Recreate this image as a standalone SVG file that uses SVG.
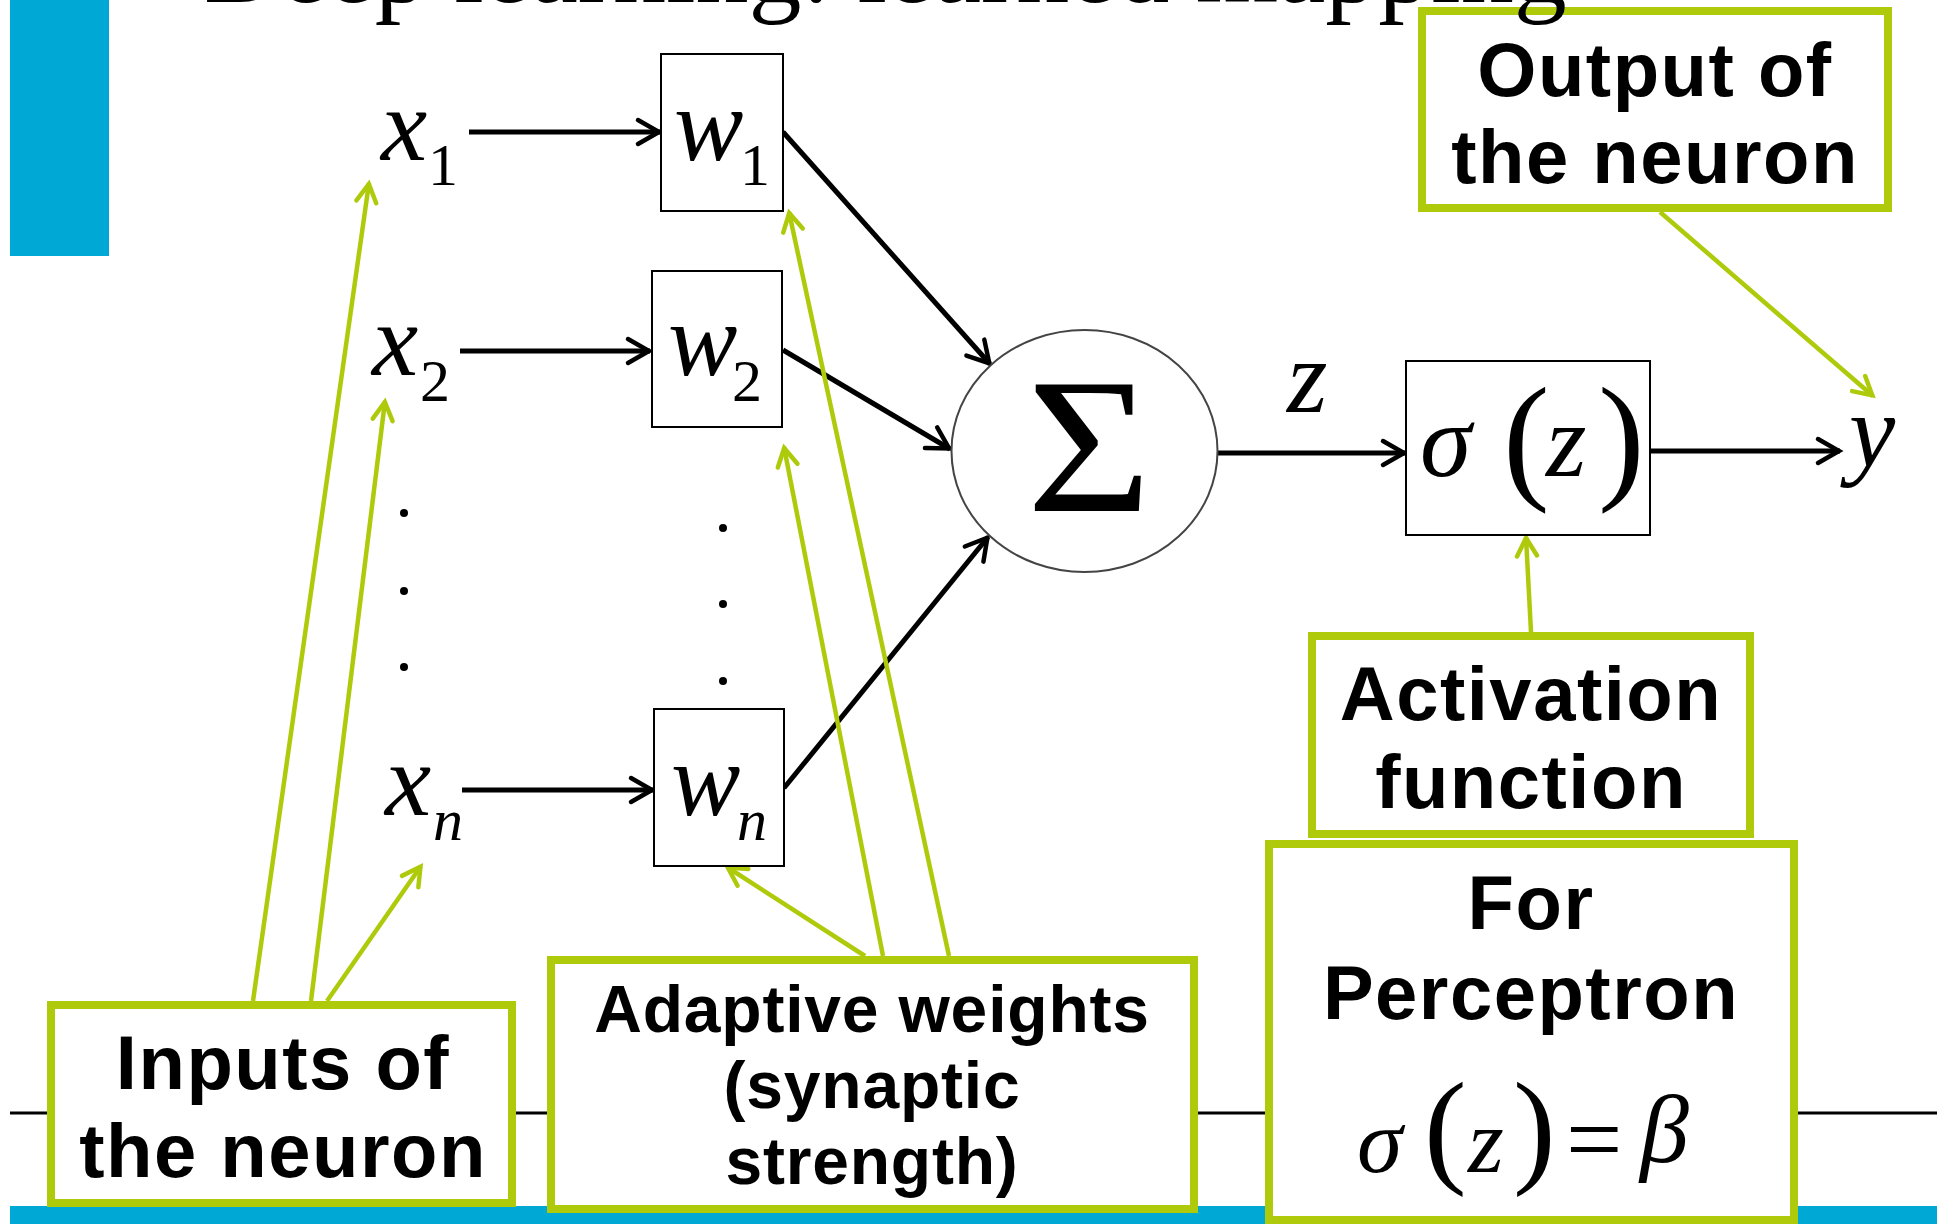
<svg xmlns="http://www.w3.org/2000/svg" width="1937" height="1224" viewBox="0 0 1937 1224">
<style>
.math{font-family:"Liberation Serif","Times New Roman",serif;font-style:italic;fill:#000}
.up{font-family:"Liberation Serif","Times New Roman",serif;font-style:normal;fill:#000}
.lbl{font-family:"Liberation Sans",Arial,sans-serif;font-weight:bold;fill:#000;text-anchor:middle;letter-spacing:1.5px}
.gbox{fill:#fff;stroke:#AFCA0B;stroke-width:8}
.wbox{fill:#fff;stroke:#000;stroke-width:2}
.blk{stroke:#000;stroke-width:5;fill:none;marker-end:url(#ab)}
.grn{stroke:#AFCA0B;stroke-width:4.5;fill:none;marker-end:url(#ag)}
</style>
<defs>
<marker id="ab" markerUnits="userSpaceOnUse" markerWidth="36" markerHeight="36" viewBox="-30 -18 36 36" refX="0" refY="0" orient="auto">
<path d="M-22,-12 L-1,0 L-22,12" fill="none" stroke="#000" stroke-width="4.5" stroke-linecap="round"/>
</marker>
<marker id="ag" markerUnits="userSpaceOnUse" markerWidth="30" markerHeight="30" viewBox="-24 -15 30 30" refX="0" refY="0" orient="auto">
<path d="M-19,-10 L-1,0 L-19,10" fill="none" stroke="#AFCA0B" stroke-width="4.5" stroke-linecap="round"/>
</marker>
</defs>
<rect width="1937" height="1224" fill="#fff"/>
<g id="background">
<rect x="10" y="0" width="99" height="256" fill="#00A8D6"/>
<rect x="10" y="1206" width="1927" height="18" fill="#00A8D6"/>
<line x1="10" y1="1113" x2="1937" y2="1113" stroke="#000" stroke-width="3"/>
</g>
<g id="connectors">
<line class="blk" x1="469" y1="132" x2="660" y2="132"/>
<line class="blk" x1="460" y1="351" x2="650" y2="351"/>
<line class="blk" x1="462" y1="790" x2="653" y2="790"/>
<line class="blk" x1="783" y1="132" x2="990" y2="364"/>
<line class="blk" x1="783" y1="350" x2="950" y2="449"/>
<line class="blk" x1="784" y1="788" x2="988" y2="537"/>
<line class="blk" x1="1218" y1="453" x2="1405" y2="453"/>
<line class="blk" x1="1650" y1="451" x2="1840" y2="451"/>
<line class="grn" x1="253" y1="1001" x2="369" y2="183"/>
<line class="grn" x1="311" y1="1001" x2="385" y2="401"/>
<line class="grn" x1="327" y1="1001" x2="421" y2="866"/>
<line class="grn" x1="865" y1="956" x2="727" y2="867"/>
<line class="grn" x1="883" y1="956" x2="784" y2="447"/>
<line class="grn" x1="949" y1="956" x2="789" y2="212"/>
<line class="grn" x1="1660" y1="212" x2="1873" y2="396"/>
<line class="grn" x1="1531" y1="632" x2="1526" y2="537"/>
</g>
<g id="x1"><text class="math" x="381" y="160" font-size="104">x</text><text class="up" x="428" y="185" font-size="60">1</text></g>
<g id="x2"><text class="math" x="372" y="375" font-size="104">x</text><text class="up" x="420" y="401" font-size="60">2</text></g>
<g id="dots-x"><circle cx="404" cy="513" r="4"/><circle cx="404" cy="591" r="4"/><circle cx="404" cy="667" r="4"/></g>
<g id="xn"><text class="math" x="385" y="815" font-size="104">x</text><text class="math" x="433" y="840" font-size="60">n</text></g>
<g id="w1"><rect class="wbox" x="661" y="54" width="122" height="157"/><text class="math" x="674" y="160" font-size="104">w</text><text class="up" x="740" y="185" font-size="60">1</text></g>
<g id="w2"><rect class="wbox" x="652" y="271" width="130" height="156"/><text class="math" x="668" y="375" font-size="104">w</text><text class="up" x="732" y="401" font-size="60">2</text></g>
<g id="dots-w"><circle cx="723" cy="528" r="4"/><circle cx="723" cy="604" r="4"/><circle cx="723" cy="681" r="4"/></g>
<g id="wn"><rect class="wbox" x="654" y="709" width="130" height="157"/><text class="math" x="671" y="815" font-size="104">w</text><text class="math" x="737" y="840" font-size="60">n</text></g>
<g id="sum"><ellipse cx="1084.5" cy="451" rx="133" ry="121" fill="#fff" stroke="#444" stroke-width="2"/><text class="up" x="0" y="0" font-size="192" text-anchor="middle" transform="translate(1089,511) scale(1.12,1)">Σ</text></g>
<g id="z-label"><text class="math" x="1287" y="412" font-size="104">z</text></g>
<g id="activation"><rect class="wbox" x="1406" y="361" width="244" height="174"/>
<text class="math" x="1420" y="476" font-size="104">σ</text>
<text class="up" x="1503" y="484" font-size="140">(</text>
<text class="math" x="1546" y="476" font-size="104">z</text>
<text class="up" x="1598" y="484" font-size="140">)</text></g>
<g id="y"><text class="math" x="1849" y="466" font-size="104">y</text></g>
<g id="output-label"><rect class="gbox" x="1422" y="11" width="466" height="197"/>
<text class="lbl" x="1655" y="96" font-size="76">Output of</text>
<text class="lbl" x="1655" y="183" font-size="76">the neuron</text></g>
<g id="activation-label"><rect class="gbox" x="1312" y="636" width="438" height="198"/>
<text class="lbl" x="1531" y="720" font-size="76">Activation</text>
<text class="lbl" x="1531" y="808" font-size="76">function</text></g>
<g id="perceptron-label"><rect class="gbox" x="1269" y="844" width="525" height="376"/>
<text class="lbl" x="1531" y="929" font-size="76">For</text>
<text class="lbl" x="1531" y="1019" font-size="76">Perceptron</text>
<text class="math" x="1357" y="1172" font-size="92">σ</text>
<text class="up" x="1424" y="1170" font-size="128">(</text>
<text class="math" x="1468" y="1172" font-size="92">z</text>
<text class="up" x="1513" y="1170" font-size="128">)</text>
<text class="up" x="1566" y="1173" font-size="100">=</text>
<text class="math" x="1640" y="1162" font-size="98">β</text></g>
<g id="inputs-label"><rect class="gbox" x="51" y="1005" width="461" height="198"/>
<text class="lbl" x="283" y="1089" font-size="76">Inputs of</text>
<text class="lbl" x="283" y="1177" font-size="76">the neuron</text></g>
<g id="weights-label"><rect class="gbox" x="551" y="960" width="643" height="249"/>
<text class="lbl" x="872" y="1032" font-size="66" style="letter-spacing:0.8px">Adaptive weights</text>
<text class="lbl" x="872" y="1108" font-size="66" style="letter-spacing:0.8px">(synaptic</text>
<text class="lbl" x="872" y="1184" font-size="66" style="letter-spacing:0.8px">strength)</text></g>
<g id="title"><text class="up" x="204" y="2" font-size="106">Deep learning: learned mapping</text></g>
</svg>
